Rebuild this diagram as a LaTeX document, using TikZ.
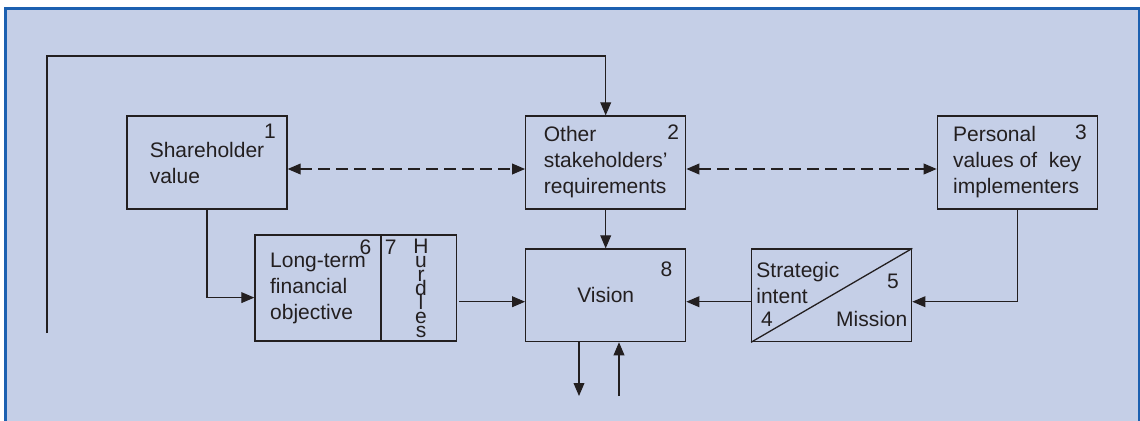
\documentclass[tikz,border=0pt]{standalone}
\usepackage{fontspec}
\setmainfont{Liberation Sans}
\usepackage{tikz}
\usetikzlibrary{shapes}
\usetikzlibrary{arrows.meta}
\definecolor{panel}{RGB}{197,207,231}
\definecolor{frameblue}{RGB}{28,96,176}
\definecolor{ink}{RGB}{35,31,32}
\tikzstyle{goal} = [rectangle, minimum width=80pt, minimum height=46.5pt, inner sep=0pt, align=left, draw=ink, line width=0.65pt]
\tikzstyle{tag} = [inner sep=0pt, anchor=base]
\tikzstyle{arrow} = [line width=0.55pt, draw=ink, -{Triangle[length=6.5pt, width=5.4pt]}]
\tikzstyle{twoway} = [line width=0.65pt, draw=ink, dash pattern=on 6pt off 3pt, {Triangle[length=6.5pt, width=5.4pt]}-{Triangle[length=6.5pt, width=5.4pt]}]

\begin{document}
\begin{tikzpicture}[x=0.5pt, y=-0.5pt, every node/.style={font=\fontsize{10.5}{13}\selectfont, text=ink}]
    \useasboundingbox (0,0) rectangle (1140,420);
    \fill[white] (0,0) rectangle (1140,420);
    \draw[frameblue, fill=panel, line width=1.5pt] (5.5,8.5) rectangle (1139.5,440);

    \node(Share)[goal] at (207,162.5) {Shareholder\\value};
    \node(Other)[goal] at (605.7,162.5) {Other\\stakeholders’\\requirements};
    \node(Personal)[goal] at (1017.3,162.5) {Personal\\values of \ key\\implementers};

    \node(Long)[goal, minimum width=63pt, minimum height=53pt] at (318,288) {Long-term\\financial\\objective};
    \node(Hurdles)[goal, minimum width=37.8pt, minimum height=53pt] at (418.8,288) {};
    \node(Vision)[goal, minimum height=46.3pt] at (605.7,295.3) {Vision};
    \node(Mission)[goal, minimum height=46.3pt] at (831.7,295.3) {};
	  \draw[ink, line width=0.65pt] (Mission.south west) -- (Mission.north east);

    \node(Strategic)[tag, anchor=base west] at (756,277) {Strategic};
    \node(Intent)[tag, anchor=base west] at (756,303) {intent};
    \node(MissionText)[tag, anchor=base east] at (907.7,326.7) {Mission};

    \foreach \letter [count=\i] in {H,u,r,d,l,e,s}
	  \node(H\i)[tag] at (421,{239+14*\i}) {\letter};

    \node(n1)[tag] at (270,138.5) {1};
    \node(n2)[tag] at (673.3,139) {2};
    \node(n3)[tag] at (1081,139) {3};
    \node(n4)[tag] at (767,326.7) {4};
    \node(n5)[tag] at (893,288.3) {5};
    \node(n6)[tag] at (365.5,254.3) {6};
    \node(n7)[tag] at (390.7,254.3) {7};
    \node(n8)[tag] at (666.5,276.7) {8};

    \coordinate(Loop) at (47,333);
    \coordinate(LoopTop) at (47,56);
    \draw[arrow] (Loop) -- (LoopTop) -| (Other.north);

    \draw[twoway] ([yshift=-3.25pt]Share.east) -- ([yshift=-3.25pt]Other.west);
    \draw[twoway] ([yshift=-3.25pt]Other.east) -- ([yshift=-3.25pt]Personal.west);

    \draw[arrow] (Share.south) |- ([yshift=-4.8pt]Long.west);
    \draw[arrow] (Other.south) -- (Vision.north);

    \coordinate(VisionIn) at ([yshift=-3.2pt]Vision.west);
    \draw[arrow] ([xshift=1pt]Hurdles.east |- VisionIn) -- (VisionIn);
    \draw[arrow] ([yshift=-3.2pt]Mission.west) -- ([yshift=-3.2pt]Vision.east);
    \draw[arrow] (Personal.south) |- ([yshift=-3.2pt]Mission.east);

    \coordinate(Out) at (579,396);
    \coordinate(In) at (619,396);
    \draw[arrow] (Vision.south -| Out) -- (Out);
    \draw[arrow] (In) -- (Vision.south -| In);
\end{tikzpicture}
\end{document}
